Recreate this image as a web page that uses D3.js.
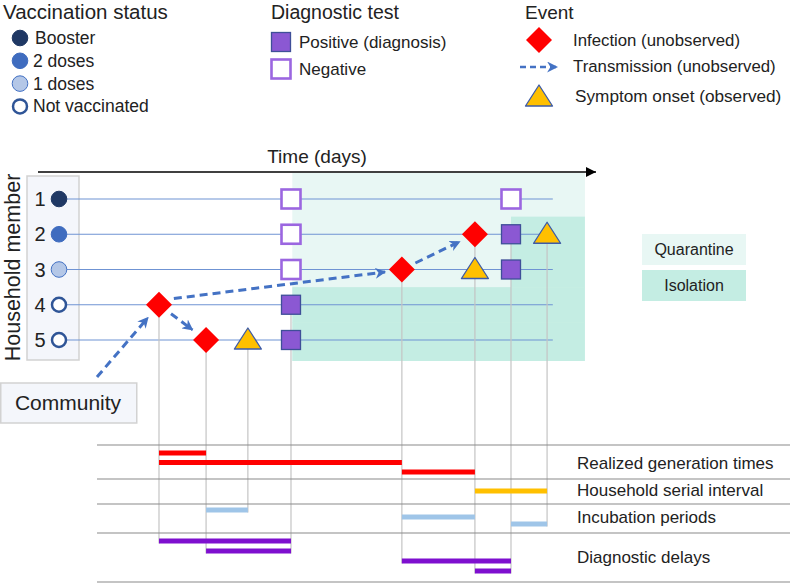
<!DOCTYPE html>
<html><head><meta charset="utf-8">
<script src="https://cdn.jsdelivr.net/npm/d3@7"></script>
<style>
html,body{margin:0;padding:0;background:#fff;}
svg{display:block;font-family:"Liberation Sans",Arial,Helvetica,sans-serif;}
</style></head>
<body>
<script>
// ---------------- DATA ----------------
const members = [1, 2, 3, 4, 5];
const vaccStatus = ["Booster", "2 doses", "1 doses", "Not vaccinated", "Not vaccinated"];
const vaccLegend = ["Booster", "2 doses", "1 doses", "Not vaccinated"];
const testLegend = ["Positive (diagnosis)", "Negative"];
const eventLegend = ["Infection (unobserved)", "Transmission (unobserved)", "Symptom onset (observed)"];
const zoneLegend = ["Quarantine", "Isolation"];

// days since first household infection
const infections = [{member: 4, day: 0}, {member: 5, day: 1.07}, {member: 3, day: 5.52}, {member: 2, day: 7.18}];
const symptoms = [{member: 5, day: 2.02}, {member: 3, day: 7.18}, {member: 2, day: 8.82}];
const tests = [
  {member: 1, day: 3.0, result: "Negative"}, {member: 2, day: 3.0, result: "Negative"},
  {member: 3, day: 3.0, result: "Negative"}, {member: 4, day: 3.0, result: "Positive"},
  {member: 5, day: 3.0, result: "Positive"},
  {member: 1, day: 8.0, result: "Negative"}, {member: 2, day: 8.0, result: "Positive"},
  {member: 3, day: 8.0, result: "Positive"}
];
const transmissions = [["Community", 4], [4, 5], [4, 3], [3, 2]];
const quarantine = {start: 3.03, end: 9.68};
const isolation = [{member: 4, start: 3.03}, {member: 5, start: 3.03}, {member: 2, start: 8.0}, {member: 3, start: 8.0}];

const intervalNames = ["Realized generation times", "Household serial interval", "Incubation periods", "Diagnostic delays"];
const generationTimes = [[0, 1.07], [0, 5.52], [5.52, 7.18]];
const serialIntervals = [[7.18, 8.82]];
const incubationPeriods = [[1.07, 2.02], [5.52, 7.18], [8.0, 8.82]];
const diagnosticDelays = [[0, 3.0], [1.07, 3.0], [5.52, 8.0], [7.18, 8.0]];

// ---------------- STYLE / LAYOUT ----------------
const W = 792, H = 583;
const C = {
  booster: "#1f3864", two: "#3f6cbf", one: "#b4c7e7", ring: "#2f5597",
  red: "#ff0000", yellow: "#ffc000", triStroke: "#3d5ba8",
  posFill: "#8b58d3", posStroke: "#3f4f98", negStroke: "#9b66e0",
  blue: "#4472c4", rowLine: "#6f93d3", grey: "#c4c4c4", sep: "#8a8a8a",
  quar: "#e8f7f4", iso: "#c4ede3", boxFill: "#f4f6fb", boxStroke: "#d2d2d2",
  gen: "#ff0000", serial: "#ffc000", incub: "#9fc5e8", delay: "#7e0fcf"
};
const TXT = "#222";

const svg = d3.select("body").append("svg").attr("width", W).attr("height", H);

const x = d3.scaleLinear().domain([0, 10]).range([159, 599]);
const y = d3.scalePoint().domain(members).range([199, 340]);
const rowStep = y.step();

const defs = svg.append("defs");
defs.append("marker").attr("id", "arr").attr("viewBox", "0 0 10 10")
  .attr("refX", 9).attr("refY", 5).attr("markerWidth", 11).attr("markerHeight", 11)
  .attr("markerUnits", "userSpaceOnUse").attr("orient", "auto")
  .append("path").attr("d", "M0,0 L10,5 L0,10 L3,5 Z").attr("fill", C.blue);
defs.append("marker").attr("id", "axarr").attr("viewBox", "0 0 10 10")
  .attr("refX", 10).attr("refY", 5).attr("markerWidth", 12).attr("markerHeight", 10)
  .attr("markerUnits", "userSpaceOnUse").attr("orient", "auto")
  .append("path").attr("d", "M0,0 L10,5 L0,10 Z").attr("fill", "#000");

const vaccStyle = {
  "Booster": {fill: C.booster, stroke: C.booster, sw: 1},
  "2 doses": {fill: C.two, stroke: C.two, sw: 1},
  "1 doses": {fill: C.one, stroke: C.blue, sw: 1},
  "Not vaccinated": {fill: "#fff", stroke: C.ring, sw: 2.5}
};

function diamond(g, cx, cy, r) {
  g.append("path").attr("d", `M${cx},${cy - r} L${cx + r},${cy} L${cx},${cy + r} L${cx - r},${cy} Z`)
    .attr("fill", C.red);
}
function triangle(g, cx, cy) {
  g.append("path").attr("d", `M${cx},${cy - 12} L${cx + 13.5},${cy + 9} L${cx - 13.5},${cy + 9} Z`)
    .attr("fill", C.yellow).attr("stroke", C.triStroke).attr("stroke-width", 1.3).attr("stroke-linejoin", "round");
}
function square(g, cx, cy, result) {
  const pos = result === "Positive";
  g.append("rect").attr("x", cx - 9.5).attr("y", cy - 9.5).attr("width", 19).attr("height", 19)
    .attr("fill", pos ? C.posFill : "#fff").attr("stroke", pos ? C.posStroke : C.negStroke)
    .attr("stroke-width", pos ? 1.3 : 2.6);
}

// ---------------- LEGENDS ----------------
const lg = svg.append("g");
const title = (t, tx, fs) => lg.append("text").attr("x", tx).attr("y", 19).attr("font-size", fs).attr("fill", TXT).text(t);
title("Vaccination status", 3, 20.5);
title("Diagnostic test", 271, 19.5);
title("Event", 525, 19);

vaccLegend.forEach((v, i) => {
  const cy = 38 + i * 22.8, s = vaccStyle[v];
  lg.append("circle").attr("cx", 20).attr("cy", cy).attr("r", s.sw > 2 ? 7 : 7.8)
    .attr("fill", s.fill).attr("stroke", s.stroke).attr("stroke-width", s.sw);
  lg.append("text").attr("x", i === 0 ? 35 : 33).attr("y", cy + 6).attr("font-size", 17.5).attr("fill", TXT).text(v);
});

testLegend.forEach((t, i) => {
  const cy = 42 + i * 27;
  square(lg, 281, cy, i === 0 ? "Positive" : "Negative");
  lg.append("text").attr("x", 299).attr("y", cy + 6).attr("font-size", 17).attr("fill", TXT).text(t);
});

diamond(lg, 539, 40, 13);
lg.append("text").attr("x", 573).attr("y", 46).attr("font-size", 16.8).attr("fill", TXT).text(eventLegend[0]);
lg.append("line").attr("x1", 520).attr("y1", 67).attr("x2", 557).attr("y2", 67)
  .attr("stroke", C.blue).attr("stroke-width", 2.5).attr("stroke-dasharray", "6 4").attr("marker-end", "url(#arr)");
lg.append("text").attr("x", 573).attr("y", 72).attr("font-size", 16.8).attr("fill", TXT).text(eventLegend[1]);
triangle(lg, 539, 97);
lg.append("text").attr("x", 575).attr("y", 102).attr("font-size", 17.2).attr("fill", TXT).text(eventLegend[2]);

// zone legend
zoneLegend.forEach((z, i) => {
  const top = 234 + i * 36;
  lg.append("rect").attr("x", 642).attr("y", top).attr("width", 104).attr("height", 31)
    .attr("fill", i === 0 ? C.quar : C.iso);
  lg.append("text").attr("x", 694).attr("y", top + 21).attr("text-anchor", "middle")
    .attr("font-size", 16).attr("fill", TXT).text(z);
});

// ---------------- MAIN PANEL ----------------
const main = svg.append("g");

// quarantine & isolation zones
main.append("rect").attr("x", x(quarantine.start)).attr("y", y(1) - 26)
  .attr("width", x(quarantine.end) - x(quarantine.start)).attr("height", y(5) + 21 - (y(1) - 26))
  .attr("fill", C.quar);
main.selectAll(".iso").data(isolation).join("rect")
  .attr("x", d => x(d.start))
  .attr("y", d => y(d.member) - rowStep / 2)
  .attr("width", d => x(quarantine.end) - x(d.start))
  .attr("height", d => d.member === 5 ? rowStep / 2 + 21 : rowStep + 0.5)
  .attr("fill", C.iso);

// member box
main.append("rect").attr("x", 27).attr("y", 176).attr("width", 52).attr("height", 184)
  .attr("fill", C.boxFill).attr("stroke", C.boxStroke).attr("stroke-width", 1.5);
main.append("text").attr("transform", `translate(20,${(y(1) + y(5)) / 2 - 2}) rotate(-90)`)
  .attr("text-anchor", "middle").attr("font-size", 21.5).attr("fill", TXT).text("Household member");

// row lines
main.selectAll(".row").data(members).join("line")
  .attr("x1", 66).attr("x2", x(8.95)).attr("y1", d => y(d)).attr("y2", d => y(d))
  .attr("stroke", C.rowLine).attr("stroke-width", 1.2);

// placeholder for guide lines (drawn under markers)
const guideG = main.append("g");

// time axis
main.append("line").attr("x1", 38).attr("x2", 596).attr("y1", 172).attr("y2", 172)
  .attr("stroke", "#000").attr("stroke-width", 1.3).attr("marker-end", "url(#axarr)");
main.append("text").attr("x", 317).attr("y", 163).attr("text-anchor", "middle")
  .attr("font-size", 19).attr("fill", TXT).text("Time (days)");

// ---------------- INTERVAL BARS ----------------
const groups = [
  {data: generationTimes, color: C.gen, top: 453, step: 9.5, label: 463},
  {data: serialIntervals, color: C.serial, top: 491, step: 0, label: 490},
  {data: incubationPeriods, color: C.incub, top: 510, step: 7, label: 517},
  {data: diagnosticDelays, color: C.delay, top: 541, step: 10, label: 557}
];
const bars = [];
groups.forEach(g => g.data.forEach((d, li) => bars.push({s: d[0], e: d[1], y: g.top + li * g.step, color: g.color})));

// vertical guide lines from events to bars
const keyEvents = [...infections, ...symptoms, ...tests.filter(t => t.result === "Positive")];
const days = Array.from(new Set(bars.flatMap(b => [b.s, b.e])));
const guides = days.map(dd => ({
  day: dd,
  top: d3.min(keyEvents.filter(ev => ev.day === dd), ev => y(ev.member)),
  bottom: d3.max(bars.filter(b => b.s === dd || b.e === dd), b => b.y) + 2.5
}));
guideG.selectAll("line").data(guides).join("line")
  .attr("x1", d => x(d.day)).attr("x2", d => x(d.day)).attr("y1", d => d.top).attr("y2", d => d.bottom)
  .attr("stroke", C.grey).attr("stroke-width", 1.2);

// separators
const sepYs = [445, 479, 504, 533, 582];
svg.append("g").selectAll("line").data(sepYs).join("line")
  .attr("x1", 97).attr("x2", 790).attr("y1", d => d).attr("y2", d => d)
  .attr("stroke", C.sep).attr("stroke-width", 1.1);

svg.append("g").selectAll("rect").data(bars).join("rect")
  .attr("x", d => x(d.s)).attr("width", d => x(d.e) - x(d.s))
  .attr("y", d => d.y - 2.5).attr("height", 5).attr("fill", d => d.color);

svg.append("g").selectAll("text").data(groups).join("text")
  .attr("x", 577).attr("y", d => d.label + 6).attr("font-size", 17).attr("fill", TXT)
  .text((d, i) => intervalNames[i]);

// ---------------- COMMUNITY ----------------
main.append("rect").attr("x", 0.75).attr("y", 383).attr("width", 136).attr("height", 40)
  .attr("fill", C.boxFill).attr("stroke", C.boxStroke).attr("stroke-width", 1.5);
main.append("text").attr("x", 68).attr("y", 410).attr("text-anchor", "middle")
  .attr("font-size", 21).attr("fill", TXT).text("Community");

// ---------------- TRANSMISSIONS ----------------
const infByMember = new Map(infections.map(d => [d.member, d]));
const pt = m => m === "Community" ? [97, 377] : [x(infByMember.get(m).day), y(m)];
const tg = main.append("g");
transmissions.forEach(([a, b]) => {
  const p0 = pt(a), p1 = pt(b);
  const dx = p1[0] - p0[0], dy = p1[1] - p0[1], L = Math.hypot(dx, dy);
  const ux = dx / L, uy = dy / L;
  const s0 = a === "Community" ? 0 : 15, s1 = 17;
  tg.append("line")
    .attr("x1", p0[0] + ux * s0).attr("y1", p0[1] + uy * s0 - (a === 4 && b === 3 ? 4 : 0))
    .attr("x2", p1[0] - ux * s1).attr("y2", p1[1] - uy * s1)
    .attr("stroke", C.blue).attr("stroke-width", 3).attr("stroke-dasharray", "8 5")
    .attr("marker-end", "url(#arr)");
});

// ---------------- MARKERS ----------------
const mk = main.append("g");
members.forEach((m, i) => {
  const s = vaccStyle[vaccStatus[i]];
  mk.append("text").attr("x", 40).attr("y", y(m) + 7).attr("text-anchor", "middle")
    .attr("font-size", 20).attr("fill", TXT).text(m);
  mk.append("circle").attr("cx", 59).attr("cy", y(m)).attr("r", s.sw > 2 ? 7 : 7.8)
    .attr("fill", s.fill).attr("stroke", s.stroke).attr("stroke-width", s.sw);
});
tests.forEach(t => square(mk, x(t.day), y(t.member), t.result));
infections.forEach(d => diamond(mk, x(d.day), y(d.member), 13));
symptoms.forEach(d => triangle(mk, x(d.day), y(d.member)));
</script>
</body></html>
